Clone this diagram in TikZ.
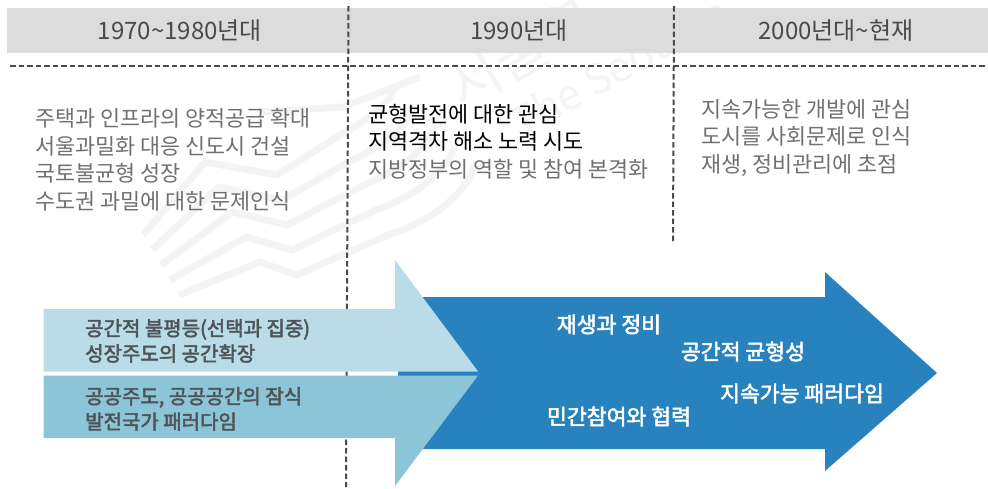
\documentclass[tikz,border=0pt]{standalone}
\usepackage{fontspec}
\setmainfont{Noto Sans CJK KR}
\newfontfamily\medfont[FakeBold=2.5]{Noto Sans CJK KR}
\definecolor{band}{HTML}{DCDCDC}
\definecolor{txt}{HTML}{707070}
\definecolor{head}{HTML}{4A4A4A}
\definecolor{dark}{HTML}{4D5558}
\definecolor{ltblue}{HTML}{BADCE9}
\definecolor{midblue}{HTML}{8CC5D8}
\definecolor{mainblue}{HTML}{2882BE}
\definecolor{wm}{HTML}{F4F4F4}
\tikzset{
  headlab/.style={font=\fontsize{24}{28}\selectfont,text=head,inner sep=0pt},
  bodylab/.style={font=\fontsize{21.8}{27.5}\selectfont,text=txt,align=left,inner sep=0pt},
  boldlab/.style={font=\medfont\fontsize{20}{25.3}\selectfont,text=dark,align=left,inner sep=0pt},
  whitelab/.style={font=\medfont\fontsize{21.6}{24}\selectfont,text=white,inner sep=0pt},
  divider/.style={draw=head,line width=2pt,dash pattern=on 5.5pt off 3pt},
  wmline/.style={draw=wm,line width=7pt,line join=miter}
}
\begin{document}
\begin{tikzpicture}[x=1pt,y=-1pt]
\useasboundingbox (0,0) rectangle (988,488);
% watermark
\draw[wmline] (260,112) -- (343,107) -- (420,77);
\foreach \k in {0,...,4}{
  \draw[wmline] ({143+9*\k},{235+15*\k}) -- ({205+13.7*\k},{162+25*\k}) -- ({277+5*\k},{175+25*\k}) -- ({340+12*\k},{135+25*\k})
     .. controls ({370+18*\k},{118+25*\k}) and ({390+20*\k},{105+20*\k}) .. ({395+20*\k},{85+20*\k});
}
\node[rotate=31,text=wm,font=\fontsize{58}{60}\selectfont,inner sep=0pt] (wmk) at (520,52) {서울연};
\node[rotate=29,text=wm,font=\fontsize{42}{46}\selectfont,inner sep=0pt] (wme) at (619,66) {The Seoul In};
\fill[band] (7,8) rectangle (988,53);
% dividers
\coordinate (h0) at (10,66); \coordinate (h1) at (988,66);
\coordinate (v1a) at (348.5,6); \coordinate (v1b) at (346,487);
\coordinate (v2a) at (674,6); \coordinate (v2b) at (673,244);
\draw[divider] (h0) -- (h1);
\draw[divider] (v1a) -- (v1b);
\draw[divider] (v2a) -- (v2b);
% headers
\node[headlab] (t1) at (180,31) {1970\char`\~1980년대};
\node[headlab] (t2) at (519,31) {1990년대};
\node[headlab] (t3) at (836,31) {2000년대\char`\~현재};
% bodies
\node[bodylab,anchor=north west] (b1) at (35,108.5) {주택과 인프라의 양적공급 확대\\서울과밀화 대응 신도시 건설\\국토불균형 성장\\수도권 과밀에 대한 문제인식};
\node[bodylab,anchor=north west,text=black] (b2) at (368,104) {균형발전에 대한 관심\\지역격차 해소 노력 시도\\\textcolor{txt}{지방정부의 역할 및 참여 본격화}};
\node[bodylab,anchor=north west] (b3) at (701,99) {지속가능한 개발에 관심\\도시를 사회문제로 인식\\재생, 정비관리에 초점};
% arrows
\fill[mainblue] (398,297) -- (825,297) -- (825,272) -- (937,373) -- (825,471) -- (825,449) -- (398,449) -- cycle;
\fill[ltblue] (43.5,309) -- (395,309) -- (395,260) -- (478,371.5) -- (43.5,371.5) -- cycle;
\fill[midblue] (43.5,375.5) -- (478,375.5) -- (395,486) -- (395,438) -- (43.5,438) -- cycle;
% arrow labels
\node[boldlab,anchor=north west] (a1) at (85,319) {공간적 불평등(선택과 집중)\\성장주도의 공간확장};
\node[boldlab,anchor=north west] (a2) at (85,387) {공공주도, 공공공간의 잠식\\발전국가 패러다임};
\node[whitelab] (w1) at (609,324.5) {재생과 정비};
\node[whitelab] (w2) at (743,351.5) {공간적 균형성};
\node[whitelab] (w3) at (802,393.5) {지속가능 패러다임};
\node[whitelab] (w4) at (619,416.5) {민간참여와 협력};
\end{tikzpicture}
\end{document}
